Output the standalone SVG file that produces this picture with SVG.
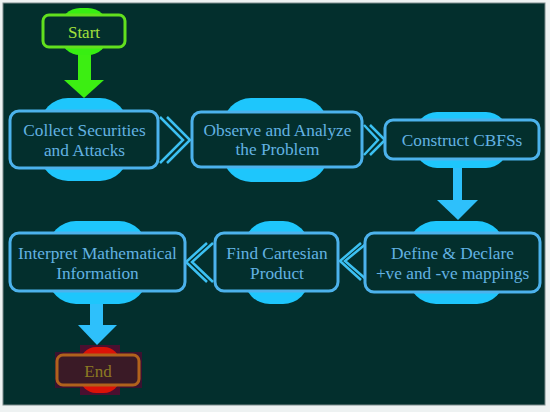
<svg xmlns="http://www.w3.org/2000/svg" width="550" height="412" viewBox="0 0 550 412">
<style>
.blob{fill:#1ec6fc}
.box{fill:#032f2d;stroke:#4cb2ec;stroke-width:3}
.lbl{font-family:"Liberation Serif","Times New Roman",serif;font-size:17.3px;fill:#62b2e2;text-anchor:middle}
.chev{fill:none;stroke:#3cc0f2;stroke-width:2.5}
.arr{fill:#2ec0fb}
</style>
<rect x="0" y="0" width="550" height="412" fill="#eef2f2"/>
<rect x="3" y="3" width="542" height="402" fill="#032f2d" stroke="#7d8c8c" stroke-width="1"/>

<g id="connectors">
  <rect x="78" y="47" width="13" height="34" fill="#3cee12"/>
  <polygon points="64,80 104,80 84,98" fill="#3cee12"/>
  <polyline class="chev" points="160,117 183,140 160,163"/>
  <polyline class="chev" points="167,117 190,140 167,163"/>
  <polyline class="chev" points="364,125 378,140 364,155"/>
  <polyline class="chev" points="370,125 385,140 370,155"/>
  <rect class="arr" x="453" y="167" width="9" height="34"/>
  <polygon class="arr" points="437,200 478,200 458,220"/>
  <polyline class="chev" points="367,243 345,261 367,280"/>
  <polyline class="chev" points="361,243 340,261 361,280"/>
  <polyline class="chev" points="213,243 192,262 213,282"/>
  <polyline class="chev" points="207,243 186,262 207,282"/>
  <rect class="arr" x="90" y="303" width="13" height="23"/>
  <polygon class="arr" points="78,325 117,325 97,345"/>
</g>

<g id="start">
  <rect x="60" y="8" width="48" height="47" rx="20" fill="#38ee12"/>
  <rect x="43" y="15" width="82" height="32" rx="6" fill="#032f2d" stroke="#62e01e" stroke-width="3"/>
  <text x="84" y="37.5" font-family="'Liberation Serif','Times New Roman',serif" font-size="17" fill="#a4e03c" text-anchor="middle">Start</text>
</g>

<g id="n1">
  <rect class="blob" x="40" y="98" width="88" height="83" rx="28"/>
  <rect class="box" x="10" y="111" width="148" height="57" rx="9"/>
  <text class="lbl" x="84.5" y="136">Collect Securities</text>
  <text class="lbl" x="84.5" y="155.5">and Attacks</text>
</g>

<g id="n2">
  <rect class="blob" x="223" y="98" width="105" height="84" rx="28"/>
  <rect class="box" x="192" y="112" width="170" height="55" rx="9"/>
  <text class="lbl" x="277.5" y="135.5">Observe and Analyze</text>
  <text class="lbl" x="277.5" y="155">the Problem</text>
</g>

<g id="n3">
  <rect class="blob" x="415" y="112" width="93" height="56" rx="22"/>
  <rect class="box" x="385" y="120" width="154" height="39" rx="8"/>
  <text class="lbl" x="462" y="145.5">Construct CBFSs</text>
</g>

<g id="n4">
  <rect class="blob" x="408" y="221" width="97" height="83" rx="28"/>
  <rect class="box" x="365" y="233" width="175" height="59" rx="9"/>
  <text class="lbl" x="452.5" y="259">Define &amp; Declare</text>
  <text class="lbl" x="452.5" y="278.5">+ve and -ve mappings</text>
</g>

<g id="n5">
  <rect class="blob" x="244" y="221" width="65" height="83" rx="26"/>
  <rect class="box" x="215" y="233" width="123" height="58" rx="9"/>
  <text class="lbl" x="277" y="259">Find Cartesian</text>
  <text class="lbl" x="277" y="278.5">Product</text>
</g>

<g id="n6">
  <rect class="blob" x="48" y="221" width="99" height="83" rx="28"/>
  <rect class="box" x="10" y="233" width="175" height="58" rx="9"/>
  <text class="lbl" x="97.5" y="259">Interpret Mathematical</text>
  <text class="lbl" x="97.5" y="278.5">Information</text>
</g>

<g id="end">
  <rect x="55" y="352" width="87" height="36" fill="#3a1230"/>
  <rect x="80" y="345" width="40" height="50" fill="#4a1030"/>
  <rect x="80" y="347" width="40" height="46" rx="16" fill="#dc1208"/>
  <rect x="57" y="355" width="82" height="30" rx="6" fill="#3a1a26" stroke="#b0621c" stroke-width="3"/>
  <text x="98" y="377" font-family="'Liberation Serif','Times New Roman',serif" font-size="17" fill="#8c7a22" text-anchor="middle">End</text>
</g>
</svg>
